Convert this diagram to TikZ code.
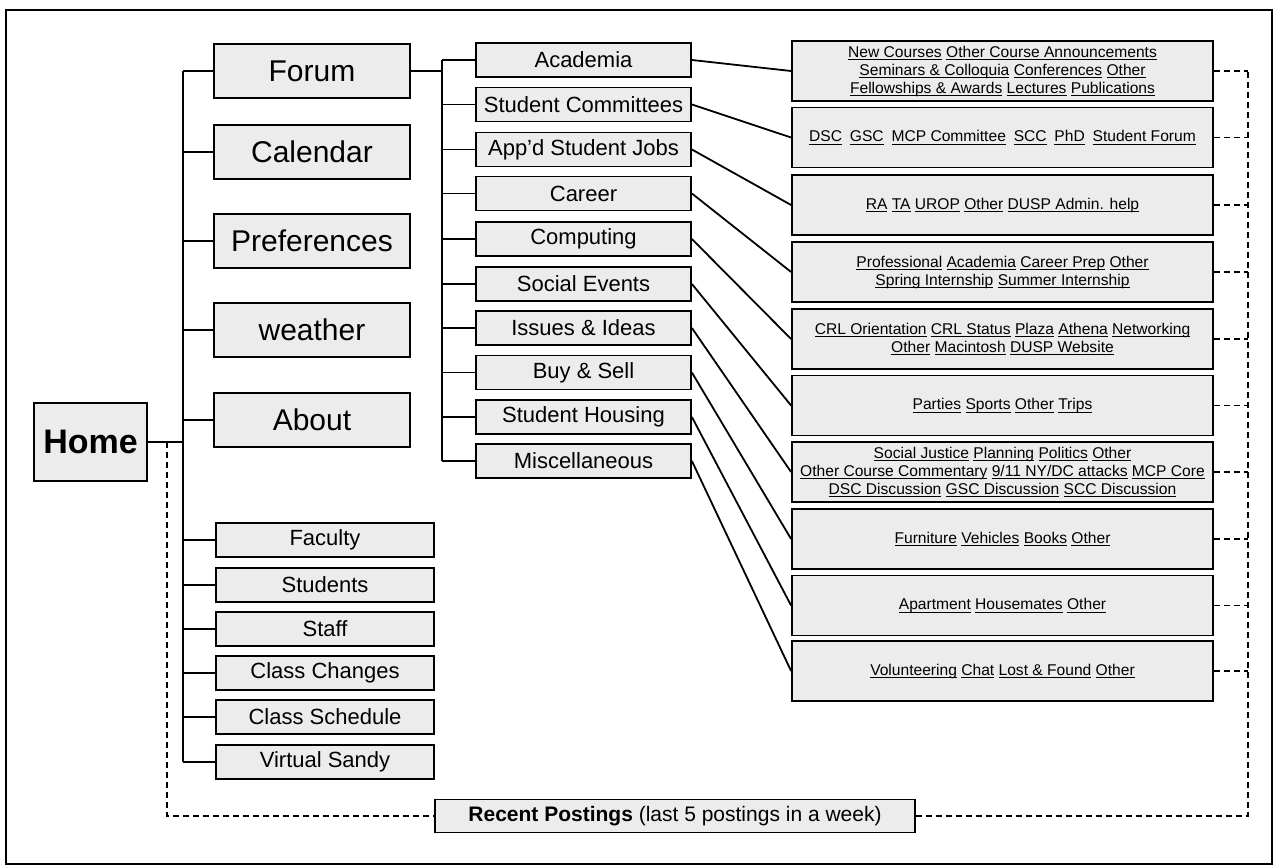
\documentclass[tikz,border=0pt]{standalone}
\usepackage{fontspec}
\setmainfont{Liberation Sans}
\newcommand{\lnk}[1]{\setbox0\hbox{#1}\rlap{\rule[-1.6pt]{\wd0}{0.55pt}}\box0\relax}
\definecolor{boxgray}{RGB}{236,236,236}

\begin{document}
\begin{tikzpicture}[x=0.5pt,y=0.5pt,yscale=-1,
  box/.style={draw,line width=0.9pt,fill=boxgray,inner sep=0pt,align=center},
  homebox/.style={box,minimum width=56.5pt,minimum height=39pt,font=\fontsize{17}{20}\selectfont\bfseries},
  bigbox/.style={box,minimum width=98pt,minimum height=27pt,font=\fontsize{15}{18}\selectfont},
  smallbox/.style={box,minimum width=109pt,minimum height=17pt,font=\fontsize{11}{13}\selectfont},
  midbox/.style={box,minimum width=107.5pt,minimum height=17pt,font=\fontsize{11}{13}\selectfont},
  linkbox/.style={box,minimum width=210.5pt,minimum height=30pt,font=\fontsize{7.8}{9}\selectfont},
  tree/.style={line width=0.9pt},
  dots/.style={line width=0.9pt,dash pattern=on 3pt off 2pt}]
\useasboundingbox (0,0) rectangle (1275,866);

%Shape: Frame
\draw [line width=0.9pt] (6,10) rectangle (1272,864);

% Text Node
\draw (90.5,442) node [homebox] (home) {Home};

% Text Node
\draw (312,71) node [bigbox] (forum) {Forum};
% Text Node
\draw (312,152) node [bigbox] (calendar) {Calendar};
% Text Node
\draw (312,241) node [bigbox] (prefs) {Preferences};
% Text Node
\draw (312,330) node [bigbox] (weather) {weather};
% Text Node
\draw (312,420) node [bigbox] (about) {About};

% Text Node
\draw (325,540) node [smallbox] (faculty) {Faculty};
% Text Node
\draw (325,585) node [smallbox] (students) {Students};
% Text Node
\draw (325,629) node [smallbox] (staff) {Staff};
% Text Node
\draw (325,673) node [smallbox] (clchanges) {Class Changes};
% Text Node
\draw (325,717) node [smallbox] (clschedule) {Class Schedule};
% Text Node
\draw (325,762) node [smallbox] (vsandy) {Virtual Sandy};

% Text Node
\draw (583.5,60) node [midbox] (academia) {Academia};
% Text Node
\draw (583.5,104.5) node [midbox] (committees) {Student Committees};
% Text Node
\draw (583.5,149.5) node [midbox] (jobs) {App'd Student Jobs};
% Text Node
\draw (583.5,193.5) node [midbox] (career) {Career};
% Text Node
\draw (583.5,239) node [midbox] (computing) {Computing};
% Text Node
\draw (583.5,284) node [midbox] (social) {Social Events};
% Text Node
\draw (583.5,328) node [midbox] (issues) {Issues \& Ideas};
% Text Node
\draw (583.5,372.5) node [midbox] (buysell) {Buy \& Sell};
% Text Node
\draw (583.5,417) node [midbox] (housing) {Student Housing};
% Text Node
\draw (583.5,461) node [midbox] (misc) {Miscellaneous};

% Text Node
\draw (1002.5,71) node [linkbox] (lacad) {\lnk{New Courses} \lnk{Other Course Announcements}\\
  \lnk{Seminars \& Colloquia} \lnk{Conferences} \lnk{Other}\\
  \lnk{Fellowships \& Awards} \lnk{Lectures} \lnk{Publications}};
% Text Node
\draw (1002.5,137.5) node [linkbox] (lcomm) {\lnk{DSC}\enspace\lnk{GSC}\enspace\lnk{MCP Committee}\enspace\lnk{SCC}\enspace\lnk{PhD}\enspace\lnk{Student Forum}};
% Text Node
\draw (1002.5,205) node [linkbox] (ljobs) {\lnk{RA} \lnk{TA} \lnk{UROP} \lnk{Other} \lnk{DUSP Admin. help}};
% Text Node
\draw (1002.5,272) node [linkbox] (lcareer) {\lnk{Professional} \lnk{Academia} \lnk{Career Prep} \lnk{Other}\\
  \lnk{Spring Internship} \lnk{Summer Internship}};
% Text Node
\draw (1002.5,339) node [linkbox] (lcomp) {\lnk{CRL Orientation} \lnk{CRL Status} \lnk{Plaza} \lnk{Athena} \lnk{Networking}\\
  \lnk{Other} \lnk{Macintosh} \lnk{DUSP Website}};
% Text Node
\draw (1002.5,405.5) node [linkbox] (lsocial) {\lnk{Parties} \lnk{Sports} \lnk{Other} \lnk{Trips}};
% Text Node
\draw (1002.5,472) node [linkbox] (lissues) {\lnk{Social Justice} \lnk{Planning} \lnk{Politics} \lnk{Other}\\
  \lnk{Other Course Commentary} \lnk{9/11 NY/DC attacks} \lnk{MCP Core}\\
  \lnk{DSC Discussion} \lnk{GSC Discussion} \lnk{SCC Discussion}};
% Text Node
\draw (1002.5,539) node [linkbox] (lbuy) {\lnk{Furniture} \lnk{Vehicles} \lnk{Books} \lnk{Other}};
% Text Node
\draw (1002.5,605.5) node [linkbox] (lhousing) {\lnk{Apartment} \lnk{Housemates} \lnk{Other}};
% Text Node
\draw (1002.5,671) node [linkbox] (lmisc) {\lnk{Volunteering} \lnk{Chat} \lnk{Lost \& Found} \lnk{Other}};

% Text Node
\draw (675,816) node [box,minimum width=240pt,minimum height=16.5pt,font=\fontsize{10.5}{12}\selectfont] (recent) {\textbf{Recent Postings} (last 5 postings in a week)};

%Straight Lines: tree from Home
\coordinate (trunk) at (183,442);
\draw [tree] (home.east) -- (trunk);
\draw [tree] (trunk |- forum) -- (trunk |- vsandy);
\draw [tree] (trunk |- forum) -- (forum.west);
\draw [tree] (trunk |- calendar) -- (calendar.west);
\draw [tree] (trunk |- prefs) -- (prefs.west);
\draw [tree] (trunk |- weather) -- (weather.west);
\draw [tree] (trunk |- about) -- (about.west);
\draw [tree] (trunk |- faculty) -- (faculty.west);
\draw [tree] (trunk |- students) -- (students.west);
\draw [tree] (trunk |- staff) -- (staff.west);
\draw [tree] (trunk |- clchanges) -- (clchanges.west);
\draw [tree] (trunk |- clschedule) -- (clschedule.west);
\draw [tree] (trunk |- vsandy) -- (vsandy.west);

%Straight Lines: tree from Forum
\coordinate (fork) at (442,71);
\draw [tree] (forum.east) -- (fork);
\draw [tree] (fork |- academia) -- (fork |- misc);
\draw [tree] (fork |- academia) -- (academia.west);
\draw [tree] (fork |- committees) -- (committees.west);
\draw [tree] (fork |- jobs) -- (jobs.west);
\draw [tree] (fork |- career) -- (career.west);
\draw [tree] (fork |- computing) -- (computing.west);
\draw [tree] (fork |- social) -- (social.west);
\draw [tree] (fork |- issues) -- (issues.west);
\draw [tree] (fork |- buysell) -- (buysell.west);
\draw [tree] (fork |- housing) -- (housing.west);
\draw [tree] (fork |- misc) -- (misc.west);

%Straight Lines: topics to links
\draw [tree] (academia.east) -- (lacad.west);
\draw [tree] (committees.east) -- (lcomm.west);
\draw [tree] (jobs.east) -- (ljobs.west);
\draw [tree] (career.east) -- (lcareer.west);
\draw [tree] (computing.east) -- (lcomp.west);
\draw [tree] (social.east) -- (lsocial.west);
\draw [tree] (issues.east) -- (lissues.west);
\draw [tree] (buysell.east) -- (lbuy.west);
\draw [tree] (housing.east) -- (lhousing.west);
\draw [tree] (misc.east) -- (lmisc.west);

%Dashed Lines: recent postings
\coordinate (drop) at (167,442);
\coordinate (rail) at (1248,816);
\draw [dots] (drop) |- (recent.west);
\draw [dots] (recent.east) -- (rail) -- (rail |- lacad);
\draw [dots] (lacad.east) -- (rail |- lacad);
\draw [dots] (lcomm.east) -- (rail |- lcomm);
\draw [dots] (ljobs.east) -- (rail |- ljobs);
\draw [dots] (lcareer.east) -- (rail |- lcareer);
\draw [dots] (lcomp.east) -- (rail |- lcomp);
\draw [dots] (lsocial.east) -- (rail |- lsocial);
\draw [dots] (lissues.east) -- (rail |- lissues);
\draw [dots] (lbuy.east) -- (rail |- lbuy);
\draw [dots] (lhousing.east) -- (rail |- lhousing);
\draw [dots] (lmisc.east) -- (rail |- lmisc);

\end{tikzpicture}
\end{document}
